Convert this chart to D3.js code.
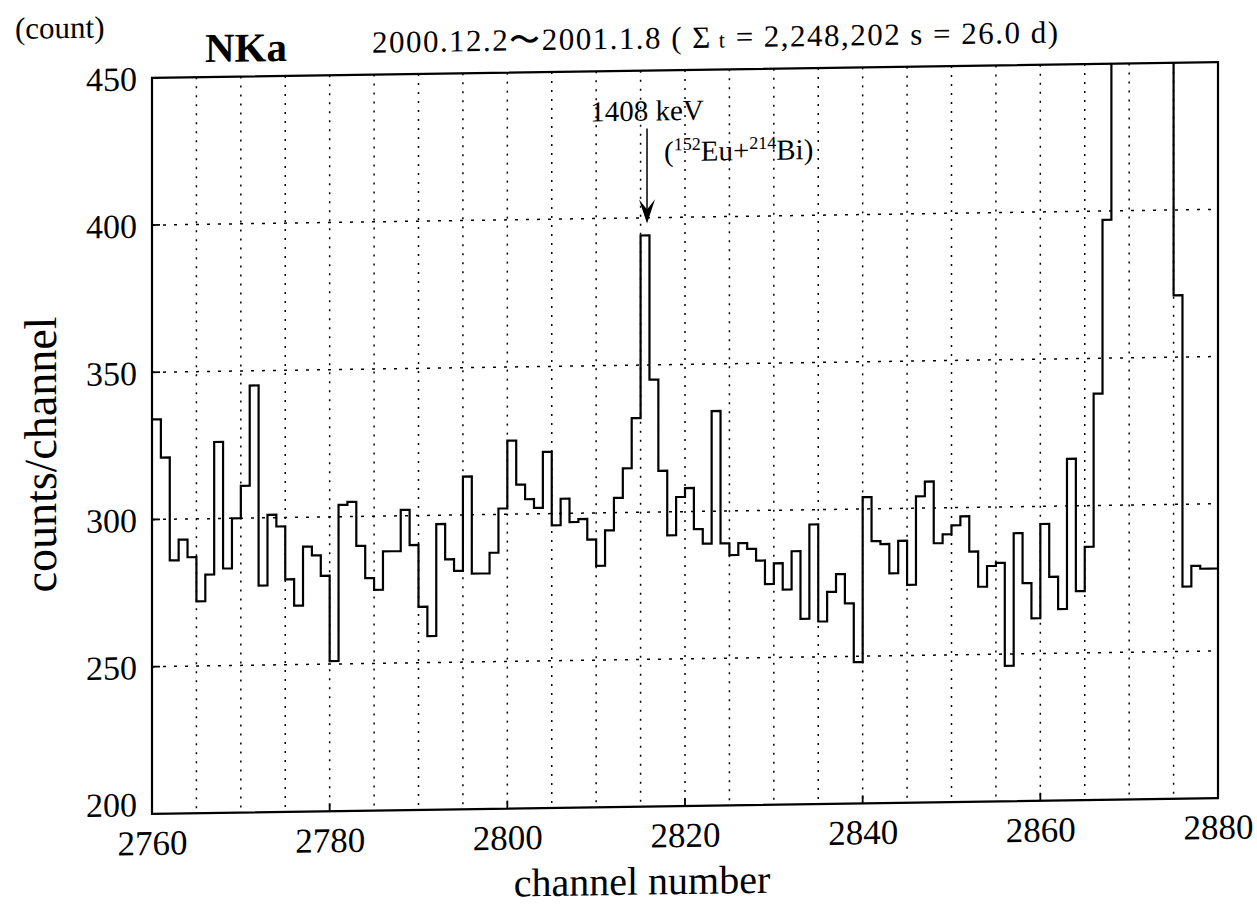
<!DOCTYPE html>
<html><head><meta charset="utf-8">
<script src="https://cdn.jsdelivr.net/npm/d3@7"></script>
<style>
body{margin:0;background:#fff}
svg{display:block}
text{font-family:"Liberation Serif","Times New Roman",serif;fill:#000}
</style>
</head><body>
<svg id="c" width="1257" height="906"></svg>
<script>
// ---- data ----
const channelStart = 2760;
const channelEnd = 2880;
const counts = [
  334,321,286,293,287,272,281,326,283,300,
  311,345,277,301,297,279,270,290,287,280,
  251,304,305,290,279,275,288,288,302,290,
  269,259,297,285,281,313,280,280,287,302,
  325,310,305,302,321,296,305,297,298,291,
  282,294,305,315,332,394,345,314,292,305,
  308,294,289,334,289,285,289,287,283,275,
  282,273,286,263,295,262,272,278,268,248,
  304,289,288,278,289,274,304,309,288,291,
  294,297,285,273,280,281,246,291,274,262,
  294,276,265,316,271,286,338,397,560,1150,
  2300,2700,1800,850,470,371,272,279,278,278
];
const xTickLabels = [2760,2780,2800,2820,2840,2860,2880];
const yTickLabels = [200,250,300,350,400,450];
const yGridValues = [250,300,350,400];
const titleText = "2000.12.2\u301C2001.1.8";
const peakLabel = "1408 keV";
const peakChannel = 2815.5;
const peakValue = 394;

// ---- layout ----
const L = 152, R = 1218, T = 70, B = 806;
const svg = d3.select("#c");
const k = -0.0148, cx0 = 685;
const g = svg.append("g").attr("transform", `matrix(1,${k},0,1,0,${-k*cx0})`);

const x = d3.scaleLinear().domain([channelStart, channelEnd]).range([L, R]);
const y = d3.scaleLinear().domain([200, 450]).range([B, T]);

g.append("clipPath").attr("id","clip").append("rect")
  .attr("x",L).attr("y",T).attr("width",R-L).attr("height",B-T);

// grid
const xGridValues = d3.range(channelStart+5, channelEnd, 5);
g.append("g").selectAll("line").data(xGridValues).join("line")
  .attr("x1",d=>x(d)).attr("x2",d=>x(d)).attr("y1",T).attr("y2",B)
  .attr("stroke","#000").attr("stroke-width",1.5).attr("stroke-dasharray","2,7");
g.append("g").selectAll("line").data(yGridValues).join("line")
  .attr("x1",L).attr("x2",R).attr("y1",d=>y(d)).attr("y2",d=>y(d))
  .attr("stroke","#000").attr("stroke-width",1.5).attr("stroke-dasharray","3,8");

// histogram
const pts = counts.map((v,i)=>[channelStart+i, v]);
pts.push([channelEnd, counts[counts.length-1]]);
const line = d3.line().x(d=>x(d[0])).y(d=>y(d[1])).curve(d3.curveStepAfter);
g.append("path").attr("clip-path","url(#clip)").attr("d", line(pts))
  .attr("fill","none").attr("stroke","#000").attr("stroke-width",2.2);

// frame
g.append("rect").attr("x",L).attr("y",T).attr("width",R-L).attr("height",B-T)
  .attr("fill","none").attr("stroke","#000").attr("stroke-width",2.2);

// axes
const xAxis = d3.axisBottom(x).tickValues(xTickLabels).tickSize(0).tickPadding(0).tickFormat(d3.format("d"));
const xa = g.append("g").attr("transform",`translate(0,${B})`).call(xAxis);
xa.select(".domain").remove();
xa.selectAll("text").attr("y",41).attr("dy",null).attr("font-size",35).attr("font-family","Liberation Serif");
g.append("g").selectAll("line").data(xTickLabels.slice(1,-1)).join("line")
  .attr("x1",d=>x(d)).attr("x2",d=>x(d)).attr("y1",B).attr("y2",B-8)
  .attr("stroke","#000").attr("stroke-width",1.8);

const yAxis = d3.axisLeft(y).tickValues(yTickLabels).tickSize(0).tickPadding(15);
const ya = g.append("g").attr("transform",`translate(${L},0)`).call(yAxis);
ya.select(".domain").remove();
ya.selectAll("text").attr("font-size",34).attr("font-family","Liberation Serif")
  .attr("dy", d => d === 200 ? "0.05em" : "0.35em");
g.append("g").selectAll("line").data(yGridValues).join("line")
  .attr("x1",L).attr("x2",L+8).attr("y1",d=>y(d)).attr("y2",d=>y(d))
  .attr("stroke","#000").attr("stroke-width",1.8);

// axis titles
g.append("text").attr("x",642).attr("y",894).attr("text-anchor","middle")
  .attr("font-size",40).text("channel number");
g.append("text").attr("transform","translate(56,445) rotate(-90)").attr("text-anchor","middle")
  .attr("font-size",46).text("counts/channel");

// header texts
g.append("text").attr("x",15).attr("y",29).attr("font-size",31).text("(count)");
g.append("text").attr("x",205).attr("y",55).attr("font-size",41).attr("font-weight","bold").text("NKa");
const tt = g.append("text").attr("x",372).attr("y",48).attr("font-size",31)
  .attr("textLength",686).attr("lengthAdjust","spacing");
tt.append("tspan").text(titleText);
tt.append("tspan").text(" ( \u03A3");
tt.append("tspan").attr("font-size",22).text(" t");
tt.append("tspan").text(" = 2,248,202 s = 26.0 d)");

// peak annotation
const px = x(peakChannel) + 2;
g.append("text").attr("x",px).attr("y",120).attr("text-anchor","middle").attr("font-size",29).text(peakLabel);
g.append("line").attr("x1",px).attr("x2",px).attr("y1",128).attr("y2",210)
  .attr("stroke","#000").attr("stroke-width",1.5);
const tip = y(peakValue) - 12;
g.append("path").attr("d",`M${px-8},${tip-24} L${px},${tip-14} L${px+8},${tip-24} L${px},${tip} Z`)
  .attr("fill","#000");
const iso = g.append("text").attr("x",px+17).attr("y",161).attr("font-size",29);
iso.append("tspan").text("(");
iso.append("tspan").attr("font-size",18).attr("dy",-11).text("152");
iso.append("tspan").attr("dy",11).text("Eu+");
iso.append("tspan").attr("font-size",18).attr("dy",-11).text("214");
iso.append("tspan").attr("dy",11).text("Bi)");
</script>
</body></html>
